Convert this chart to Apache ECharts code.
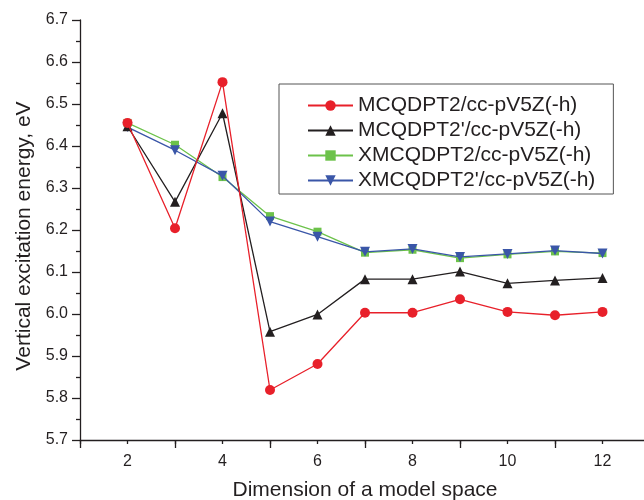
<!DOCTYPE html>
<html><head><meta charset="utf-8">
<script src="https://cdn.jsdelivr.net/npm/echarts@6/dist/echarts.min.js"></script>
<style>html,body{margin:0;padding:0;background:#fff}#c{width:644px;height:500px}</style>
</head><body><div id="c"></div>
<script>
const dims = [2, 3, 4, 5, 6, 7, 8, 9, 10, 11, 12];
const seriesNames = ['MCQDPT2/cc-pV5Z(-h)', "MCQDPT2'/cc-pV5Z(-h)", 'XMCQDPT2/cc-pV5Z(-h)', "XMCQDPT2'/cc-pV5Z(-h)"];
const mcqdpt2 = [6.455, 6.204, 6.552, 5.819, 5.881, 6.003, 6.003, 6.035, 6.005, 5.997, 6.005];
const mcqdpt2p = [6.447, 6.267, 6.478, 5.958, 5.999, 6.083, 6.083, 6.101, 6.073, 6.080, 6.086];
const xmcqdpt2 = [6.455, 6.403, 6.326, 6.233, 6.196, 6.146, 6.153, 6.133, 6.142, 6.149, 6.145];
const xmcqdpt2p = [6.445, 6.390, 6.329, 6.220, 6.184, 6.148, 6.155, 6.136, 6.143, 6.151, 6.144];
const yTicks = [5.7, 5.8, 5.9, 6.0, 6.1, 6.2, 6.3, 6.4, 6.5, 6.6, 6.7];

const txt = '#231f20';
const font = 'Liberation Sans, Arial, sans-serif';
const colors = ['#e8202a', '#231f20', '#6cc24a', '#3a56a8'];
const symbols = ['circle', 'triangle', 'rect', 'triangle'];
const symSizes = [10, 10, 8, 10];
const rot = [0, 0, 0, 180];
const allData = [mcqdpt2, mcqdpt2p, xmcqdpt2, xmcqdpt2p];

const chart = echarts.init(document.getElementById('c'), null, {renderer: 'canvas'});
const series = allData.map((arr, i) => ({
  name: seriesNames[i],
  type: 'line',
  xAxisIndex: 0,
  data: arr.map((v, j) => [dims[j], v]),
  symbol: symbols[i],
  symbolSize: symSizes[i],
  symbolRotate: rot[i],
  showAllSymbol: true,
  lineStyle: {color: colors[i], width: 1.3},
  itemStyle: {color: colors[i]},
  emphasis: {disabled: true},
  animation: false,
  z: 2 + (i === 0 ? 3 : i === 1 ? 2 : i === 3 ? 1 : 0)
}));

chart.setOption({
  animation: false,
  backgroundColor: '#fff',
  grid: {left: 80, width: 570, top: 20, height: 420, containLabel: false, outerBoundsMode: 'none'},
  legend: {
    orient: 'vertical',
    left: 279, top: 84,
    padding: [11, 18, 3, 28],
    borderColor: '#555', borderWidth: 1,
    itemWidth: 45, itemHeight: 13, itemGap: 4,
    textStyle: {fontSize: 21, color: txt, fontFamily: font},
    data: seriesNames
  },
  xAxis: [{
    type: 'value', min: 1, max: 13, interval: 1,
    name: 'Dimension of a model space', nameLocation: 'middle', nameGap: 40,
    nameTextStyle: {fontSize: 21, color: txt, fontFamily: font},
    axisLine: {lineStyle: {color: txt, width: 1.3}},
    axisTick: {length: 4, lineStyle: {color: txt, width: 1.3}},
    axisLabel: {fontSize: 16, color: txt, fontFamily: font, margin: 14,
      formatter: v => (Math.round(v) % 2 === 0 && v >= 2 && v <= 12) ? String(Math.round(v)) : ''},
    splitLine: {show: false}
  }, {
    type: 'value', min: 1, max: 13, interval: 2, position: 'bottom',
    axisLine: {show: false}, axisLabel: {show: false}, splitLine: {show: false},
    axisTick: {show: true, length: 8, lineStyle: {color: txt, width: 1.3}}
  }],
  yAxis: {
    type: 'value', min: 5.7, max: 6.7, interval: 0.1,
    name: 'Vertical excitation energy, eV', nameLocation: 'middle', nameGap: 45,
    nameTextStyle: {fontSize: 21, color: txt, fontFamily: font, padding: [0, 12, 0, 0]},
    axisLine: {show: true, lineStyle: {color: txt, width: 1.3}},
    axisTick: {show: true, length: 8, lineStyle: {color: txt, width: 1.3}},
    minorTick: {show: true, splitNumber: 2, length: 4, lineStyle: {color: txt, width: 1.3}},
    axisLabel: {fontSize: 16, color: txt, fontFamily: font, margin: 12,
      formatter: v => v.toFixed(1)},
    splitLine: {show: false}
  },
  series: series
});
</script></body></html>
